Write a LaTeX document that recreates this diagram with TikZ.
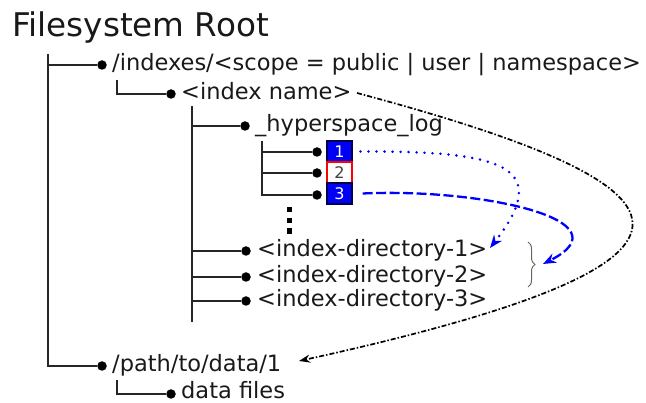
\documentclass[tikz,border=0pt]{standalone}
\usepackage{fontspec}
\setmainfont{DejaVu Sans}
\usetikzlibrary{arrows.meta,decorations.pathreplacing}
\begin{document}
\begin{tikzpicture}[x=1pt,y=-1pt,
  txt/.style={anchor=base west,inner sep=0pt,font=\fontsize{22.5}{24}\selectfont,text=black!90},
  bullet/.style={circle,fill=black,inner sep=0pt,minimum size=9.5pt},
  tree/.style={line width=2.2pt,black!85},
  numbox/.style={minimum width=25pt,minimum height=21pt,inner sep=0pt,font=\fontsize{16}{16}\selectfont,line width=1.1pt},
  bluebox/.style={numbox,fill={rgb,255:red,0;green,0;blue,245},draw=black!70!blue,text=white},
  redbox/.style={numbox,fill=white,draw=red,text=black!75},
  vdot/.style={fill=black},
  ]
\useasboundingbox (0,0) rectangle (646,403);

\node[txt,font=\fontsize{32.6}{34}\selectfont] (title) at (12,37) {Filesystem Root};

% main trunk
\coordinate (trunk) at (48,54);
\node[bullet] (bIdx) at (102,65) {};
\node[txt] (tIdx) at (112,71) {/indexes/<scope = public | user | namespace>};
\node[bullet] (bPath) at (102,366) {};
\node[txt] (tPath) at (112,372) {/path/to/data/1};
\draw[tree] (trunk) |- (bPath);
\draw[tree] (trunk |- bIdx) -- (bIdx);

% index name
\coordinate (e1) at (117,80);
\node[bullet] (bName) at (171,94) {};
\node[txt] (tName) at (181,100) {<index name>};
\draw[tree] (e1) |- (bName);

% level under index name
\coordinate (e2) at (192,106);
\coordinate (e2end) at (192,322);
\draw[tree] (e2) -- (e2end);
\node[bullet] (bLog) at (245,126) {};
\node[txt] (tLog) at (255,132) {\_hyperspace\_log};
\node[bullet] (bD1) at (246,251) {};
\node[txt] (tD1) at (257,257) {<index-directory-1>};
\node[bullet] (bD2) at (246,277) {};
\node[txt] (tD2) at (257,283) {<index-directory-2>};
\node[bullet] (bD3) at (246,301) {};
\node[txt] (tD3) at (257,307) {<index-directory-3>};
\foreach \b in {bLog,bD1,bD2,bD3} \draw[tree] (e2 |- \b) -- (\b);

% log entries
\coordinate (e3) at (262,141);
\node[bullet] (bL1) at (317,152) {};
\node[bullet] (bL2) at (317,173) {};
\node[bullet] (bL3) at (317,195) {};
\draw[tree] (e3) |- (bL3);
\draw[tree] (e3 |- bL1) -- (bL1);
\draw[tree] (e3 |- bL2) -- (bL2);
\node[bluebox] (box1) at (339.5,151.5) {1};
\node[redbox]  (box2) at (339.5,172.5) {2};
\node[bluebox] (box3) at (339.5,193.5) {3};

% vertical ellipsis
\fill[vdot] (287,207) rectangle (291.5,212.5);
\fill[vdot] (287,218) rectangle (291.5,223.5);
\fill[vdot] (287,228.5) rectangle (291.5,234);

% data files
\coordinate (e4) at (117,380);
\node[bullet] (bData) at (171,394) {};
\node[txt,text depth=0pt] (tData) at (181,399) {data files};
\draw[tree] (e4) |- (bData);

% brace
\coordinate (braceTop) at (528,242);
\coordinate (braceBot) at (528,287);
\coordinate (braceTip) at (541,264);
\draw[black!60, line width=1pt, decorate, decoration={brace,amplitude=7pt}] (braceTop) -- (braceBot);

% dotted blue arrow
\coordinate (a1) at (490,248);
\draw[blue, line width=2.8pt, dash pattern=on 0pt off 8pt, line cap=round,
  -{Stealth[length=13pt,width=10pt]}]
  ([xshift=8pt]box1.east) .. controls (500,151) and (555,165) .. (a1);

% dashed blue arrow
\draw[blue, line width=2.3pt, dash pattern=on 10pt off 3.5pt,
  -{Stealth[length=13pt,width=10pt]}]
  ([xshift=10pt]box3.east) .. controls (480,188) and (630,220) .. ([xshift=2pt]braceTip);

% dash-dot black arrow
\coordinate (c1) at (357,93);
\coordinate (c2) at (299,361);
\draw[black, line width=1.7pt, dash pattern=on 5pt off 2pt on 1.5pt off 2pt,
  -{Stealth[length=11pt,width=8pt]}]
  (c1) .. controls (701,185) and (765,259) .. (c2);
\end{tikzpicture}
\end{document}
